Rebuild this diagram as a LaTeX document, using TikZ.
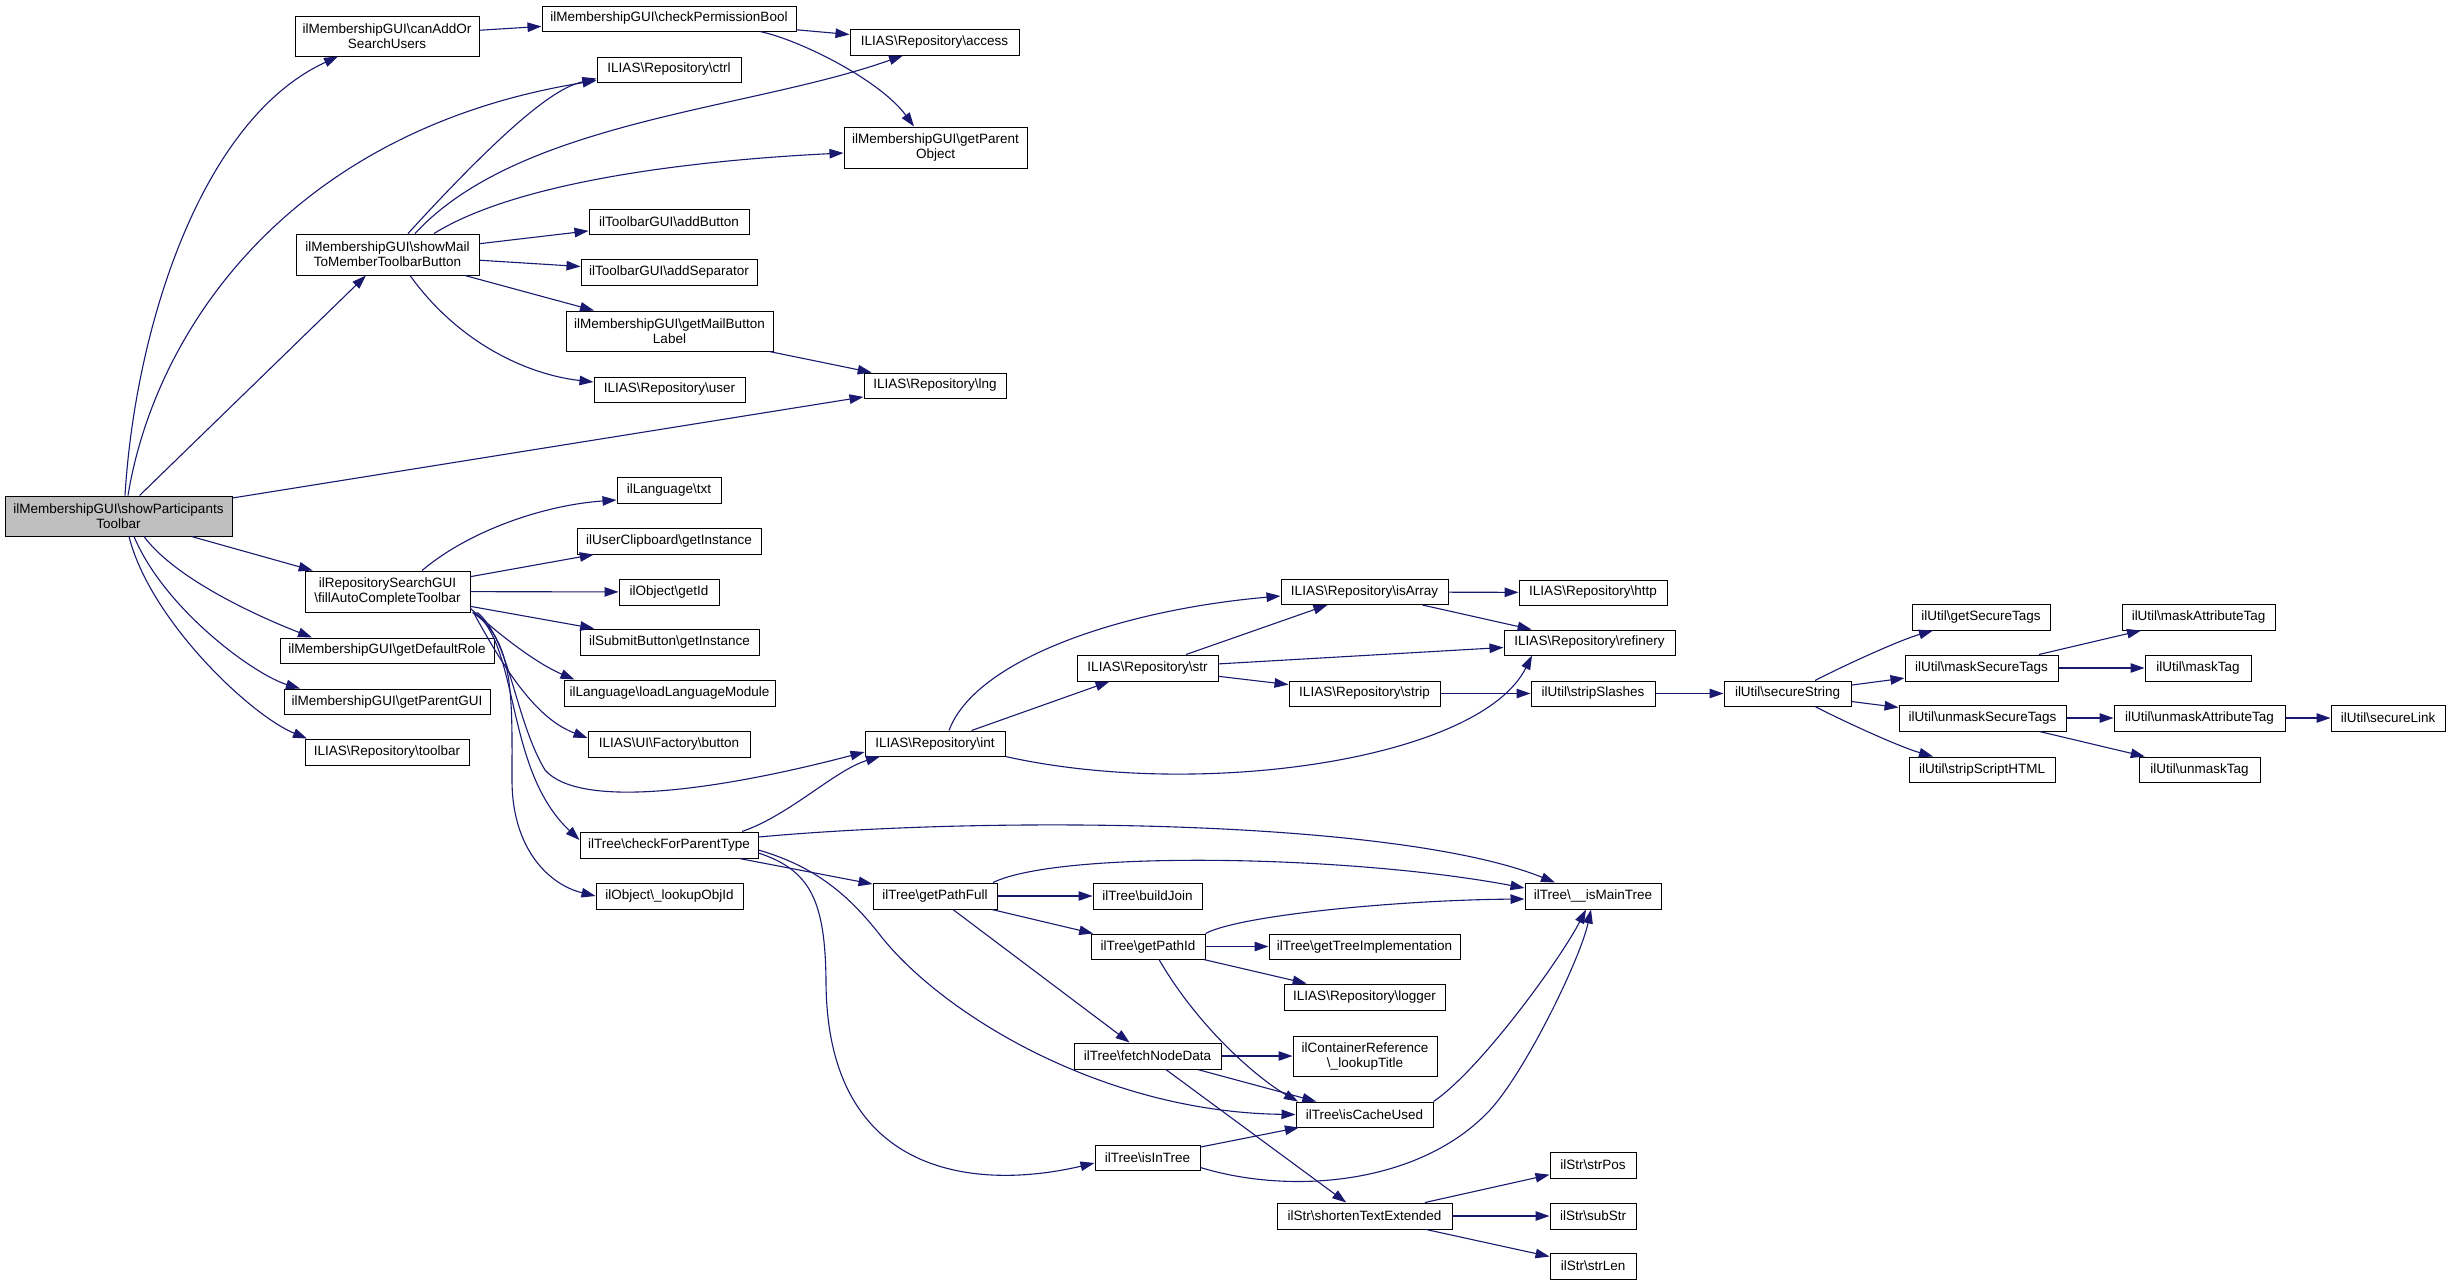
\documentclass[tikz,border=0pt]{standalone}
\usepackage{fontspec}
\setmainfont{Liberation Sans}
\usetikzlibrary{arrows.meta}
\definecolor{edgecol}{HTML}{191970}
\definecolor{rootgray}{HTML}{BFBFBF}
\def\mybs{\textbackslash}
\begin{document}
\begin{tikzpicture}[x=1pt,y=-1pt,
  box/.style={draw=black, line width=1pt, fill=white, inner sep=0pt, align=center, font=\fontsize{13.5}{15}\selectfont},
  edge/.style={draw=edgecol, line width=1.1pt, -{Triangle[length=14pt,width=9.5pt]}}]
\useasboundingbox (0,0) rectangle (2452,1285);
\fill[white] (0,0) rectangle (2452,1285);
% nodes
\node[box,fill=rootgray,minimum width=227pt,minimum height=40pt] (A) at (118.5,516) {ilMembershipGUI\mybs showParticipants\\Toolbar};
\node[box,minimum width=184pt,minimum height=40pt] (B) at (387,36) {ilMembershipGUI\mybs canAddOr\\SearchUsers};
\node[box,minimum width=254pt,minimum height=25pt] (C) at (669,18.5) {ilMembershipGUI\mybs checkPermissionBool};
\node[box,minimum width=169pt,minimum height=26pt] (D) at (934.5,42) {ILIAS\mybs Repository\mybs access};
\node[box,minimum width=144pt,minimum height=25pt] (E) at (669,69.5) {ILIAS\mybs Repository\mybs ctrl};
\node[box,minimum width=183pt,minimum height=41pt] (F) at (935.5,147.5) {ilMembershipGUI\mybs getParent\\Object};
\node[box,minimum width=183pt,minimum height=41pt] (G) at (387.5,254.5) {ilMembershipGUI\mybs showMail\\ToMemberToolbarButton};
\node[box,minimum width=160pt,minimum height=25pt] (H) at (669,221.5) {ilToolbarGUI\mybs addButton};
\node[box,minimum width=176pt,minimum height=26pt] (I) at (669,272) {ilToolbarGUI\mybs addSeparator};
\node[box,minimum width=207pt,minimum height=40pt] (J) at (669.5,331) {ilMembershipGUI\mybs getMailButton\\Label};
\node[box,minimum width=151pt,minimum height=25pt] (K) at (669.5,389.5) {ILIAS\mybs Repository\mybs user};
\node[box,minimum width=142pt,minimum height=25pt] (L) at (935,385.5) {ILIAS\mybs Repository\mybs lng};
\node[box,minimum width=104pt,minimum height=26pt] (M) at (669,490) {ilLanguage\mybs txt};
\node[box,minimum width=184pt,minimum height=26pt] (N) at (669,541) {ilUserClipboard\mybs getInstance};
\node[box,minimum width=100pt,minimum height=26pt] (O) at (669,592) {ilObject\mybs getId};
\node[box,minimum width=179pt,minimum height=26pt] (P) at (669.5,642) {ilSubmitButton\mybs getInstance};
\node[box,minimum width=211pt,minimum height=26pt] (Q) at (669.5,693) {ilLanguage\mybs loadLanguageModule};
\node[box,minimum width=162pt,minimum height=26pt] (R) at (669,744) {ILIAS\mybs UI\mybs Factory\mybs button};
\node[box,minimum width=165pt,minimum height=41pt] (S) at (387.5,591.5) {ilRepositorySearchGUI\\\mybs fillAutoCompleteToolbar};
\node[box,minimum width=214pt,minimum height=25pt] (T) at (387,650.5) {ilMembershipGUI\mybs getDefaultRole};
\node[box,minimum width=206pt,minimum height=25pt] (U) at (387,701.5) {ilMembershipGUI\mybs getParentGUI};
\node[box,minimum width=164pt,minimum height=26pt] (V) at (387,752) {ILIAS\mybs Repository\mybs toolbar};
\node[box,minimum width=140pt,minimum height=25pt] (W) at (935,743.5) {ILIAS\mybs Repository\mybs int};
\node[box,minimum width=178pt,minimum height=26pt] (X) at (669,845) {ilTree\mybs checkForParentType};
\node[box,minimum width=147pt,minimum height=26pt] (Y) at (669.5,896) {ilObject\mybs\_lookupObjId};
\node[box,minimum width=124pt,minimum height=26pt] (Z) at (935,896) {ilTree\mybs getPathFull};
\node[box,minimum width=109pt,minimum height=26pt] (bj) at (1147.5,896) {ilTree\mybs buildJoin};
\node[box,minimum width=136pt,minimum height=26pt] (mt) at (1593,896) {ilTree\mybs\_\_isMainTree};
\node[box,minimum width=114pt,minimum height=25pt] (pid) at (1148,946.5) {ilTree\mybs getPathId};
\node[box,minimum width=191pt,minimum height=25pt] (gti) at (1364.5,946.5) {ilTree\mybs getTreeImplementation};
\node[box,minimum width=161pt,minimum height=26pt] (lg) at (1364.5,997) {ILIAS\mybs Repository\mybs logger};
\node[box,minimum width=147pt,minimum height=26pt] (fnd) at (1147.5,1056) {ilTree\mybs fetchNodeData};
\node[box,minimum width=144pt,minimum height=40pt] (crt) at (1365,1056) {ilContainerReference\\\mybs\_lookupTitle};
\node[box,minimum width=137pt,minimum height=25pt] (icu) at (1364.5,1114.5) {ilTree\mybs isCacheUsed};
\node[box,minimum width=105pt,minimum height=25pt] (iit) at (1147.5,1157.5) {ilTree\mybs isInTree};
\node[box,minimum width=175pt,minimum height=26pt] (ste) at (1364.5,1216) {ilStr\mybs shortenTextExtended};
\node[box,minimum width=86pt,minimum height=26pt] (spos) at (1593,1165) {ilStr\mybs strPos};
\node[box,minimum width=86pt,minimum height=26pt] (ssub) at (1593,1216) {ilStr\mybs subStr};
\node[box,minimum width=86pt,minimum height=26pt] (slen) at (1593,1266) {ilStr\mybs strLen};
\node[box,minimum width=167pt,minimum height=25pt] (ia) at (1364.5,592) {ILIAS\mybs Repository\mybs isArray};
\node[box,minimum width=148pt,minimum height=25pt] (ht) at (1593,592.5) {ILIAS\mybs Repository\mybs http};
\node[box,minimum width=171pt,minimum height=25pt] (rf) at (1589.5,642.5) {ILIAS\mybs Repository\mybs refinery};
\node[box,minimum width=141pt,minimum height=26pt] (st) at (1147.5,668) {ILIAS\mybs Repository\mybs str};
\node[box,minimum width=151pt,minimum height=25pt] (sp) at (1364.5,693.5) {ILIAS\mybs Repository\mybs strip};
\node[box,minimum width=124pt,minimum height=25pt] (ss) at (1593,693.5) {ilUtil\mybs stripSlashes};
\node[box,minimum width=127pt,minimum height=25pt] (sec) at (1787.5,693.5) {ilUtil\mybs secureString};
\node[box,minimum width=138pt,minimum height=26pt] (gst) at (1981,617) {ilUtil\mybs getSecureTags};
\node[box,minimum width=153pt,minimum height=26pt] (mst) at (1981.5,668) {ilUtil\mybs maskSecureTags};
\node[box,minimum width=167pt,minimum height=26pt] (ust) at (1982.5,718) {ilUtil\mybs unmaskSecureTags};
\node[box,minimum width=146pt,minimum height=25pt] (ssh) at (1982,769.5) {ilUtil\mybs stripScriptHTML};
\node[box,minimum width=153pt,minimum height=26pt] (mat) at (2198.5,617) {ilUtil\mybs maskAttributeTag};
\node[box,minimum width=106pt,minimum height=26pt] (mtg) at (2198,668) {ilUtil\mybs maskTag};
\node[box,minimum width=171pt,minimum height=26pt] (uat) at (2199.5,718) {ilUtil\mybs unmaskAttributeTag};
\node[box,minimum width=114pt,minimum height=26pt] (sl) at (2388,718) {ilUtil\mybs secureLink};
\node[box,minimum width=121pt,minimum height=25pt] (utg) at (2199.5,769.5) {ilUtil\mybs unmaskTag};
% straight edges
\draw[edge] (B) -- (C);
\draw[edge] (C) -- (D);
\draw[edge] (A) -- (G);
\draw[edge] (A) -- (L);
\draw[edge] (A) -- (S);
\draw[edge] (G) -- (H);
\draw[edge] (G) -- (I);
\draw[edge] (G) -- (J);
\draw[edge] (J) -- (L);
\draw[edge] (S) -- (N);
\draw[edge] (S) -- (O);
\draw[edge] (S) -- (P);
\draw[edge] (X) -- (Z);
\draw[edge] (Z) -- (bj);
\draw[edge] (Z) -- (pid);
\draw[edge] (Z) -- (fnd);
\draw[edge] (pid) -- (gti);
\draw[edge] (pid) -- (lg);
\draw[edge] (fnd) -- (crt);
\draw[edge] (fnd) -- (icu);
\draw[edge] (fnd) -- (ste);
\draw[edge] (iit) -- (icu);
\draw[edge] (ste) -- (spos);
\draw[edge] (ste) -- (ssub);
\draw[edge] (ste) -- (slen);
\draw[edge] (W) -- (st);
\draw[edge] (st) -- (ia);
\draw[edge] (st) -- (rf);
\draw[edge] (st) -- (sp);
\draw[edge] (ia) -- (ht);
\draw[edge] (ia) -- (rf);
\draw[edge] (sp) -- (ss);
\draw[edge] (ss) -- (sec);
\draw[edge] (sec) -- (mst);
\draw[edge] (sec) -- (ust);
\draw[edge] (mst) -- (mat);
\draw[edge] (mst) -- (mtg);
\draw[edge] (ust) -- (uat);
\draw[edge] (ust) -- (utg);
\draw[edge] (uat) -- (sl);
% curved edges
\draw[edge] ([xshift=6.5pt]A.north) .. controls (135,330) and (200,120) .. ([xshift=-49pt]B.south);
\draw[edge] ([xshift=9.5pt]A.north) .. controls (155,330) and (290,130) .. ([yshift=-11pt]E.west);
\draw[edge] ([xshift=25.5pt]A.south) .. controls (180,585) and (280,625) .. ([xshift=-75pt]T.north);
\draw[edge] ([xshift=15.5pt]A.south) .. controls (165,610) and (255,675) .. ([xshift=-87pt]U.north);
\draw[edge] ([xshift=10.5pt]A.south) .. controls (150,620) and (250,715) .. ([xshift=-80pt]V.north);
\draw[edge] ([xshift=91pt]C.south) .. controls (800,40) and (880,80) .. ([xshift=-21.5pt]F.north);
\draw[edge] ([xshift=20.5pt]G.north) .. controls (530,100) and (565,86) .. ([yshift=-9pt]E.west);
\draw[edge] ([xshift=27.5pt]G.north) .. controls (520,120) and (750,110) .. ([xshift=-31.5pt]D.south);
\draw[edge] ([xshift=46.5pt]G.north) .. controls (520,180) and (700,160) .. ([yshift=-5.5pt]F.west);
\draw[edge] ([xshift=22.5pt]G.south) .. controls (460,345) and (530,375) .. ([yshift=7.5pt]K.west);
\draw[edge] ([xshift=34.5pt]S.north) .. controls (470,530) and (545,505) .. ([yshift=-10pt]M.west);
\draw[edge] ([yshift=4pt]S.south east) .. controls (505,640) and (540,665) .. ([xshift=-95pt]Q.north);
\draw[edge] ([xshift=3pt]S.south east) .. controls (510,680) and (540,720) .. ([yshift=6pt]R.west);
\draw[edge] ([xshift=7pt]S.south east) .. controls (510,640) and (515,720) .. (545,770) .. controls (580,810) and (720,790) .. ([yshift=-8.5pt]W.west);
\draw[edge] ([xshift=5pt]S.south east) .. controls (520,650) and (505,770) .. ([yshift=5pt]X.west);
\draw[edge] ([xshift=2pt]S.south east) .. controls (515,640) and (512,700) .. (512,780) .. controls (512,850) and (550,885) .. (Y.west);
\draw[edge] ([xshift=73pt]X.north) .. controls (790,815) and (835,770) .. ([xshift=-55pt]W.south);
\draw[edge] ([yshift=8pt]X.east) .. controls (1000,815) and (1400,820) .. ([xshift=-38pt]mt.north);
\draw[edge] ([yshift=-5pt]X.east) .. controls (810,865) and (845,890) .. (880,935) .. controls (940,1012) and (1100,1112) .. (icu.west);
\draw[edge] ([yshift=-8pt]X.east) .. controls (810,870) and (825,900) .. (826,980) .. controls (826,1180) and (980,1190) .. ([yshift=-5.5pt]iit.west);
\draw[edge] ([xshift=58pt]Z.north) .. controls (1060,850) and (1350,855) .. ([yshift=8pt]mt.west);
\draw[edge] (pid.north east) .. controls (1240,915) and (1400,900) .. ([yshift=-3pt]mt.west);
\draw[edge] ([xshift=11pt]pid.south) .. controls (1200,1030) and (1260,1080) .. ([xshift=-66.5pt]icu.north);
\draw[edge] (icu.north east) .. controls (1480,1070) and (1560,960) .. ([xshift=-7pt]mt.south);
\draw[edge] ([yshift=-10pt]iit.east) .. controls (1290,1195) and (1420,1185) .. (1490,1110) .. controls (1525,1072) and (1580,960) .. ([xshift=-2pt]mt.south);
\draw[edge] ([xshift=14pt]W.north) .. controls (975,660) and (1120,610) .. ([yshift=-4pt]ia.west);
\draw[edge] (W.south east) .. controls (1200,800) and (1480,760) .. ([xshift=-57.5pt]rf.south);
\draw[edge] ([xshift=27.5pt]sec.north) .. controls (1845,665) and (1900,640) .. ([xshift=-48pt]gst.south);
\draw[edge] ([xshift=27.5pt]sec.south) .. controls (1845,722) and (1900,747) .. ([xshift=-49pt]ssh.north);
\end{tikzpicture}
\end{document}
